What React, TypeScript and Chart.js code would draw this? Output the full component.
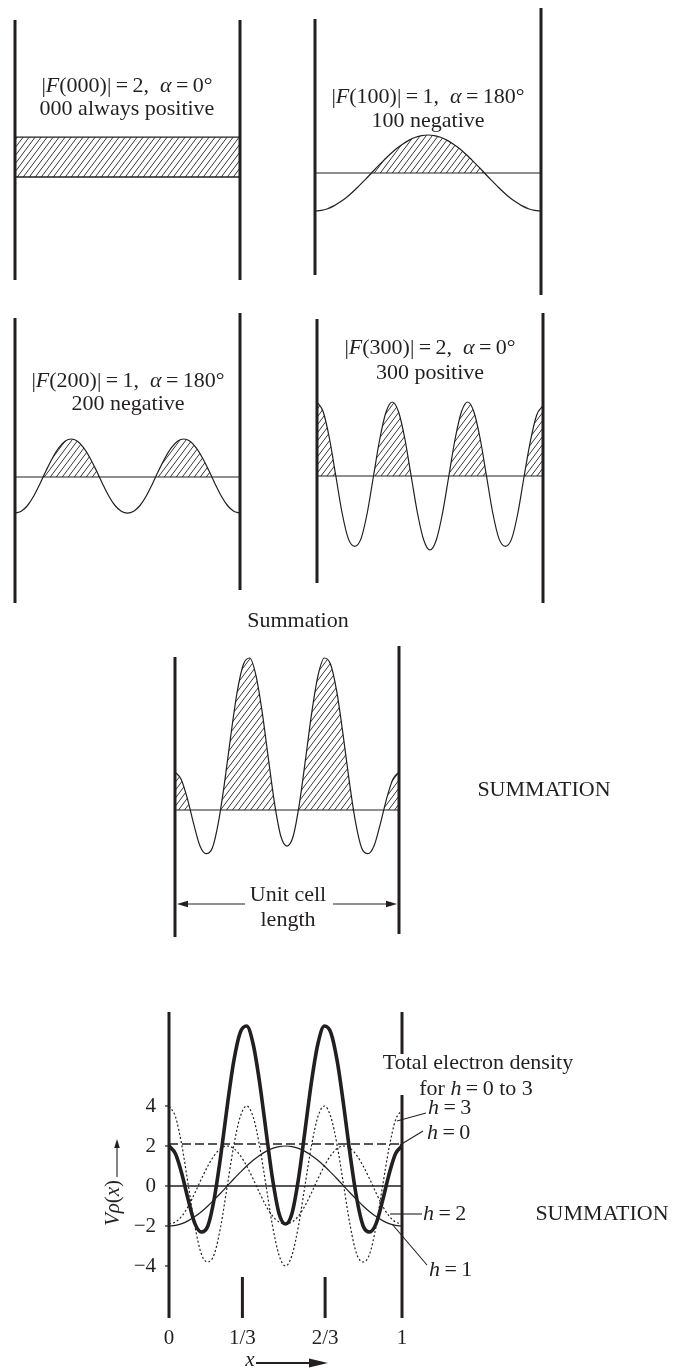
import React, { useEffect, useRef } from 'react';
import { Chart, registerables } from 'chart.js';

Chart.register(...registerables);

const W = 678;
const H = 1370;
const INK = '#231f20';
const SERIF = '"Liberation Serif", "Times New Roman", Times, serif';

// ---------------- data ----------------
// sample positions across one unit cell (fraction of the cell length)
const CELL_X = Array.from({ length: 37 }, (_, i) => i / 36);

const F000_X = [0, 1];
const F000_VALUES = [2.1, 2.1];

const F100_VALUES = [
  -2.0, -1.97, -1.88, -1.73, -1.53, -1.29, -1.0, -0.68, -0.35, 0, 0.35, 0.68, 1.0, 1.29, 1.53, 1.73, 1.88, 1.97,
  2.0, 1.97, 1.88, 1.73, 1.53, 1.29, 1.0, 0.68, 0.35, 0, -0.35, -0.68, -1.0, -1.29, -1.53, -1.73, -1.88, -1.97, -2.0,
];

const F200_VALUES = [
  -1.9, -1.8, -1.5, -1.0, -0.35, 0.35, 1.0, 1.53, 1.88, 2.0, 1.88, 1.53, 1.0, 0.35, -0.35, -1.0, -1.5, -1.8,
  -1.9, -1.8, -1.5, -1.0, -0.35, 0.35, 1.0, 1.53, 1.88, 2.0, 1.88, 1.53, 1.0, 0.35, -0.35, -1.0, -1.5, -1.8, -1.9,
];

const F300_VALUES = [
  4.0, 3.46, 2.0, 0, -2.0, -3.4, -3.8, -3.4, -2.0, 0, 2.0, 3.46, 4.0, 3.46, 2.0, 0, -2.0, -3.46,
  -4.0, -3.46, -2.0, 0, 2.0, 3.46, 4.0, 3.46, 2.0, 0, -2.0, -3.4, -3.8, -3.4, -2.0, 0, 1.9, 3.3, 3.8,
];

const SUM_VALUES = [
  2.0, 1.61, 0.59, -0.73, -1.88, -2.3, -2.0, -0.61, 1.53, 4.0, 6.23, 7.67, 8.0, 7.1, 5.18, 2.73, 0.35, -1.37,
  -1.9, -1.37, 0.35, 2.73, 5.18, 7.1, 8.0, 7.67, 6.23, 4.0, 1.53, -0.61, -2.0, -2.3, -1.88, -0.73, 0.59, 1.61, 2.0,
];

const BASE_X = [0, 1];
const BASE_VALUES = [0, 0];

const Y_TICK_VALUES = [4, 2, 0, -2, -4];
const X_TICK_VALUES = [0, 0.315, 0.67, 1];
const X_TICK_LABELS = ['0', '1/3', '2/3', '1'];

const Y_MIN = -6;
const Y_MAX = 9;

// ---------------- layout ----------------
type Layout = { x0: number; x1: number; zeroY: number; ppu: number; left: number[][]; right: number[][] };
const L000: Layout = { x0: 15, x1: 240, zeroY: 177, ppu: 19, left: [[20, 280]], right: [[20, 280]] };
const L100: Layout = { x0: 315, x1: 541, zeroY: 173, ppu: 19, left: [[19, 275]], right: [[8, 295]] };
const L200: Layout = { x0: 15, x1: 240, zeroY: 477, ppu: 19, left: [[318, 603]], right: [[313, 590]] };
const L300: Layout = { x0: 317, x1: 543, zeroY: 476, ppu: 18.5, left: [[319, 583]], right: [[313, 603]] };
const LSUM: Layout = { x0: 175, x1: 399, zeroY: 810, ppu: 19, left: [[657, 937]], right: [[646, 934]] };
const LTOT: Layout = {
  x0: 169, x1: 402, zeroY: 1186, ppu: 20,
  left: [[1012, 1318]], right: [[1012, 1054], [1095, 1318]],
};

// ---------------- drawing helpers ----------------
type Seg = { t: string; i?: boolean };

function fontOf(size: number, italic?: boolean) {
  return `${italic ? 'italic ' : ''}${size}px ${SERIF}`;
}

function drawRich(ctx: CanvasRenderingContext2D, segs: Seg[], x: number, y: number, size: number, align = 'center', baseline: CanvasTextBaseline = 'middle') {
  let total = 0;
  const widths = segs.map((s) => {
    ctx.font = fontOf(size, s.i);
    const w = ctx.measureText(s.t).width;
    total += w;
    return w;
  });
  let cx = align === 'center' ? x - total / 2 : align === 'right' ? x - total : x;
  ctx.textBaseline = baseline;
  ctx.textAlign = 'left';
  ctx.fillStyle = INK;
  segs.forEach((s, i) => {
    ctx.font = fontOf(size, s.i);
    ctx.fillText(s.t, cx, y);
    cx += widths[i];
  });
}

function seg(ctx: CanvasRenderingContext2D, xa: number, ya: number, xb: number, yb: number) {
  ctx.beginPath();
  ctx.moveTo(xa, ya);
  ctx.lineTo(xb, yb);
  ctx.stroke();
}

function arrow(ctx: CanvasRenderingContext2D, xa: number, ya: number, xb: number, yb: number, headLen: number, headHalf: number, lw: number) {
  const ang = Math.atan2(yb - ya, xb - xa);
  const bx = xb - headLen * Math.cos(ang);
  const by = yb - headLen * Math.sin(ang);
  ctx.strokeStyle = INK;
  ctx.fillStyle = INK;
  ctx.lineWidth = lw;
  seg(ctx, xa, ya, bx, by);
  ctx.beginPath();
  ctx.moveTo(xb, yb);
  ctx.lineTo(bx + headHalf * Math.sin(ang), by - headHalf * Math.cos(ang));
  ctx.lineTo(bx - headHalf * Math.sin(ang), by + headHalf * Math.cos(ang));
  ctx.closePath();
  ctx.fill();
}

function hatchPattern(): CanvasPattern | string {
  const c = document.createElement('canvas');
  const w = 6;
  const h = 8;
  c.width = w;
  c.height = h;
  const g = c.getContext('2d');
  if (!g) return 'rgba(0,0,0,0.2)';
  g.strokeStyle = INK;
  g.lineWidth = 0.9;
  for (const dx of [-w, 0, w]) {
    g.beginPath();
    g.moveTo(dx, h);
    g.lineTo(dx + w, 0);
    g.stroke();
  }
  return g.createPattern(c, 'repeat') || 'rgba(0,0,0,0.2)';
}

function titleSegs(idx: string, f: string, alpha: string): Seg[] {
  return [
    { t: '|' },
    { t: 'F', i: true },
    { t: `(${idx})|\u2009=\u2009${f},  ` },
    { t: '\u03b1', i: true },
    { t: `\u2009=\u2009${alpha}\u00b0` },
  ];
}

const pts = (xs: number[], ys: number[]) => ys.map((y, i) => ({ x: xs[i], y }));

function lineDs(xs: number[], ys: number[], extra: any = {}) {
  return {
    data: pts(xs, ys),
    borderColor: INK,
    borderWidth: 1.2,
    pointRadius: 0,
    cubicInterpolationMode: 'monotone',
    fill: false,
    ...extra,
  };
}

const hatchFill = (pat: any) => ({ fill: { target: { value: 0 }, above: pat, below: 'rgba(0,0,0,0)' } });

function drawBars(ctx: CanvasRenderingContext2D, chart: any, L: Layout) {
  const xs = chart.scales.x;
  ctx.strokeStyle = INK;
  ctx.lineWidth = 3;
  ctx.lineCap = 'butt';
  const xl = xs.getPixelForValue(0);
  const xr = xs.getPixelForValue(1);
  L.left.forEach(([a, b]) => seg(ctx, xl, a, xl, b));
  L.right.forEach(([a, b]) => seg(ctx, xr, a, xr, b));
}

function makeConfig(L: Layout, datasets: any[], decor?: (ctx: CanvasRenderingContext2D, chart: any) => void) {
  return {
    type: 'line',
    data: { datasets },
    options: {
      animation: false,
      responsive: false,
      maintainAspectRatio: false,
      devicePixelRatio: 1,
      events: [],
      layout: {
        padding: {
          left: L.x0,
          right: W - L.x1,
          top: L.zeroY - Y_MAX * L.ppu,
          bottom: H - (L.zeroY - Y_MIN * L.ppu),
        },
      },
      plugins: { legend: { display: false }, tooltip: { enabled: false }, title: { display: false } },
      scales: {
        x: { type: 'linear', min: 0, max: 1, display: false },
        y: { type: 'linear', min: Y_MIN, max: Y_MAX, display: false },
      },
    },
    plugins: [
      {
        id: 'decor',
        afterDatasetsDraw(chart: any) {
          const ctx = chart.ctx;
          ctx.save();
          drawBars(ctx, chart, L);
          if (decor) decor(ctx, chart);
          ctx.restore();
        },
      },
    ],
  };
}

const BUILDERS: ((pat: any) => any)[] = [
  // |F(000)|
  (pat) =>
    makeConfig(L000, [lineDs(F000_X, F000_VALUES, { ...hatchFill(pat), borderWidth: 1.3 }), lineDs(BASE_X, BASE_VALUES, { borderWidth: 1.3 })], (ctx) => {
      drawRich(ctx, titleSegs('000', '2', '0'), 127, 86, 22);
      drawRich(ctx, [{ t: '000 always positive' }], 127, 109, 22);
    }),
  // |F(100)|
  (pat) =>
    makeConfig(L100, [lineDs(CELL_X, F100_VALUES, hatchFill(pat)), lineDs(BASE_X, BASE_VALUES)], (ctx) => {
      drawRich(ctx, titleSegs('100', '1', '180'), 428, 97, 22);
      drawRich(ctx, [{ t: '100 negative' }], 428, 121, 22);
    }),
  // |F(200)|
  (pat) =>
    makeConfig(L200, [lineDs(CELL_X, F200_VALUES, hatchFill(pat)), lineDs(BASE_X, BASE_VALUES)], (ctx) => {
      drawRich(ctx, titleSegs('200', '1', '180'), 128, 381, 22);
      drawRich(ctx, [{ t: '200 negative' }], 128, 404, 22);
    }),
  // |F(300)|
  (pat) =>
    makeConfig(L300, [lineDs(CELL_X, F300_VALUES, hatchFill(pat)), lineDs(BASE_X, BASE_VALUES)], (ctx) => {
      drawRich(ctx, titleSegs('300', '2', '0'), 430, 348, 22);
      drawRich(ctx, [{ t: '300 positive' }], 430, 373, 22);
    }),
  // Summation panel
  (pat) =>
    makeConfig(LSUM, [lineDs(CELL_X, SUM_VALUES, hatchFill(pat)), lineDs(BASE_X, BASE_VALUES)], (ctx, chart) => {
      const xs = chart.scales.x;
      drawRich(ctx, [{ t: 'Summation' }], 298, 621, 22);
      drawRich(ctx, [{ t: 'Unit cell' }], 288, 895, 22);
      drawRich(ctx, [{ t: 'length' }], 288, 920, 22);
      arrow(ctx, 245, 904, xs.getPixelForValue(0) + 2, 904, 11, 3.2, 1.2);
      arrow(ctx, 333, 904, xs.getPixelForValue(1) - 2, 904, 11, 3.2, 1.2);
      drawRich(ctx, [{ t: 'SUMMATION' }], 544, 790, 22);
    }),
  // Total electron density
  () =>
    makeConfig(
      LTOT,
      [
        lineDs(CELL_X, SUM_VALUES, { borderWidth: 3.6 }),
        lineDs(BASE_X, BASE_VALUES, { borderWidth: 1.4 }),
        lineDs(CELL_X, F300_VALUES, { borderDash: [2, 2.2], borderWidth: 1.2 }),
        lineDs(CELL_X, F200_VALUES, { borderDash: [2, 2.2], borderWidth: 1.2 }),
        lineDs(CELL_X, F100_VALUES, { borderWidth: 1.2 }),
        lineDs(F000_X, F000_VALUES, { borderDash: [9, 4], borderWidth: 1.3 }),
      ],
      (ctx, chart) => {
        const xs = chart.scales.x;
        const ys = chart.scales.y;
        const x0 = xs.getPixelForValue(0);
        // y ticks and labels
        ctx.strokeStyle = INK;
        ctx.lineWidth = 1.2;
        Y_TICK_VALUES.forEach((v) => {
          const y = ys.getPixelForValue(v);
          seg(ctx, x0 - 4, y, x0, y);
          drawRich(ctx, [{ t: v < 0 ? '\u2212' + Math.abs(v) : String(v) }], x0 - 13, y, 21, 'right');
        });
        // x ticks and labels
        X_TICK_VALUES.forEach((v, i) => {
          const x = xs.getPixelForValue(v);
          if (i > 0 && i < X_TICK_VALUES.length - 1) {
            ctx.strokeStyle = INK;
            ctx.lineWidth = 3;
            seg(ctx, x, 1277, x, 1318);
          }
          drawRich(ctx, [{ t: X_TICK_LABELS[i] }], x, 1338, 21);
        });
        // x axis title with arrow
        drawRich(ctx, [{ t: 'x', i: true }], 250, 1366, 21, 'center', 'alphabetic');
        arrow(ctx, 256, 1363, 328, 1363, 19, 4.5, 2);
        // y axis title (rotated) with arrow
        ctx.save();
        ctx.translate(119, 1203);
        ctx.rotate(-Math.PI / 2);
        drawRich(ctx, [{ t: 'V', i: true }, { t: '\u03c1', i: true }, { t: '(' }, { t: 'x', i: true }, { t: ')' }], 0, 0, 21, 'center', 'alphabetic');
        ctx.restore();
        arrow(ctx, 117, 1177, 117, 1139, 9, 2.8, 1.1);
        // annotation
        drawRich(ctx, [{ t: 'Total electron density' }], 478, 1063, 22);
        drawRich(ctx, [{ t: 'for ' }, { t: 'h', i: true }, { t: '\u2009=\u20090 to 3' }], 476, 1089, 22);
        // leader lines and harmonic labels
        ctx.strokeStyle = INK;
        ctx.lineWidth = 1.1;
        seg(ctx, 397, 1121, 426, 1113);
        seg(ctx, 400, 1145, 423, 1131);
        seg(ctx, 390, 1214, 422, 1214);
        seg(ctx, 392, 1224, 427, 1265);
        const hl = (n: string, x: number, y: number) => drawRich(ctx, [{ t: 'h', i: true }, { t: `\u2009=\u2009${n}` }], x, y, 22, 'left');
        hl('3', 428, 1108);
        hl('0', 427, 1133);
        hl('2', 423, 1214);
        hl('1', 429, 1270);
        drawRich(ctx, [{ t: 'SUMMATION' }], 602, 1214, 22);
      }
    ),
];

function ChartLayer({ build }: { build: (pat: any) => any }) {
  const ref = useRef<HTMLCanvasElement>(null);
  useEffect(() => {
    if (!ref.current) return;
    const chart = new Chart(ref.current, build(hatchPattern()));
    return () => chart.destroy();
  }, [build]);
  return <canvas ref={ref} width={W} height={H} style={{ position: 'absolute', left: 0, top: 0, width: W, height: H }} />;
}

export default function App() {
  return (
    <div style={{ position: 'absolute', left: 0, top: 0, width: W, height: H, background: '#fff', overflow: 'hidden' }}>
      {BUILDERS.map((b, i) => (
        <ChartLayer key={i} build={b} />
      ))}
    </div>
  );
}
